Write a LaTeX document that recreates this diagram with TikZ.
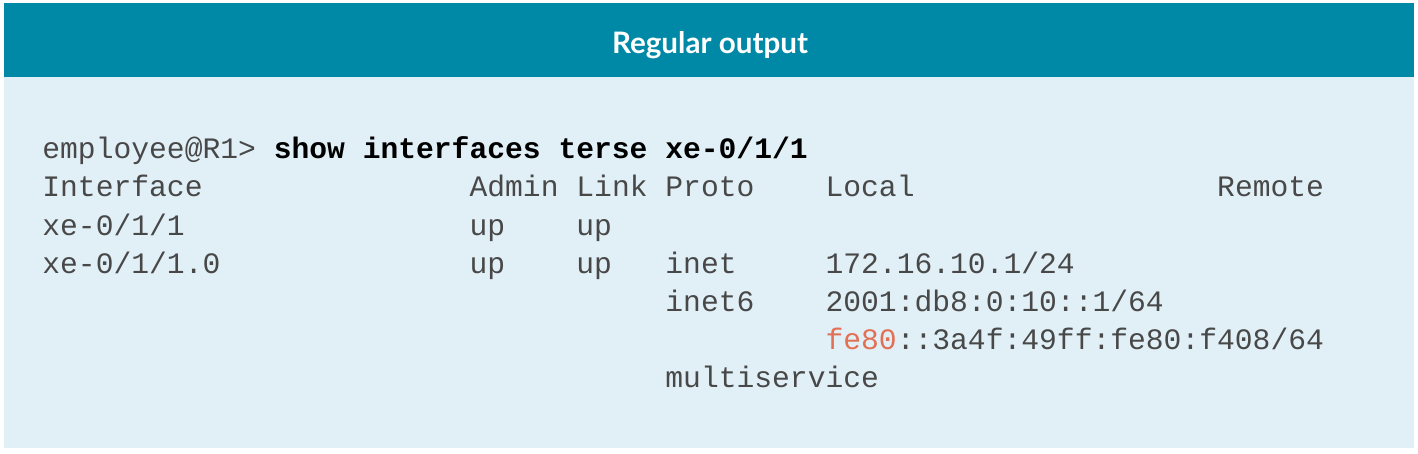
\documentclass[tikz,border=0pt]{standalone}
\usepackage{fontspec}
\setmainfont{Lato}
\setmonofont{Liberation Mono}
\definecolor{headteal}{RGB}{0,137,166}
\definecolor{bodyblue}{RGB}{225,240,247}
\definecolor{codegray}{RGB}{72,72,72}
\definecolor{hlred}{RGB}{226,112,84}
\tikzset{
  code/.style={anchor=base west, inner sep=0pt, text=codegray, font=\fontsize{14.83pt}{17pt}\selectfont\ttfamily},
  title/.style={anchor=base, inner sep=0pt, text=white, font=\fontsize{14.8pt}{18pt}\selectfont\bfseries}
}
\newcommand{\cx}[1]{\fpeval{42+17.8*#1}}
\begin{document}
\begin{tikzpicture}[x=0.5pt,y=-0.5pt]
\useasboundingbox (0,0) rectangle (1418,454);
\fill[headteal] (4,3) rectangle (1414,77);
\fill[bodyblue] (4,77) rectangle (1414,448);
\node[title] (ttl) at (710,54) {Regular output};
% row 0
\node[code] (prompt) at ({\cx{0}},159) {employee@R1> \textcolor{black}{\bfseries show interfaces terse xe-0/1/1}};
% row 1
\node[code] (h1) at ({\cx{0}},197) {Interface};
\node[code] (h2) at ({\cx{24}},197) {Admin};
\node[code] (h3) at ({\cx{30}},197) {Link};
\node[code] (h4) at ({\cx{35}},197) {Proto};
\node[code] (h5) at ({\cx{44}},197) {Local};
\node[code] (h6) at ({\cx{66}},197) {Remote};
% row 2
\node[code] (r1a) at ({\cx{0}},235) {xe-0/1/1};
\node[code] (r1b) at ({\cx{24}},235) {up};
\node[code] (r1c) at ({\cx{30}},235) {up};
% row 3
\node[code] (r2a) at ({\cx{0}},273) {xe-0/1/1.0};
\node[code] (r2b) at ({\cx{24}},273) {up};
\node[code] (r2c) at ({\cx{30}},273) {up};
\node[code] (r2d) at ({\cx{35}},273) {inet};
\node[code] (r2e) at ({\cx{44}},273) {172.16.10.1/24};
% row 4
\node[code] (r3d) at ({\cx{35}},311) {inet6};
\node[code] (r3e) at ({\cx{44}},311) {2001:db8:0:10::1/64};
% row 5
\node[code] (r4e) at ({\cx{44}},349) {\textcolor{hlred}{fe80}::3a4f:49ff:fe80:f408/64};
% row 6
\node[code] (r5d) at ({\cx{35}},387) {multiservice};
\end{tikzpicture}
\end{document}
